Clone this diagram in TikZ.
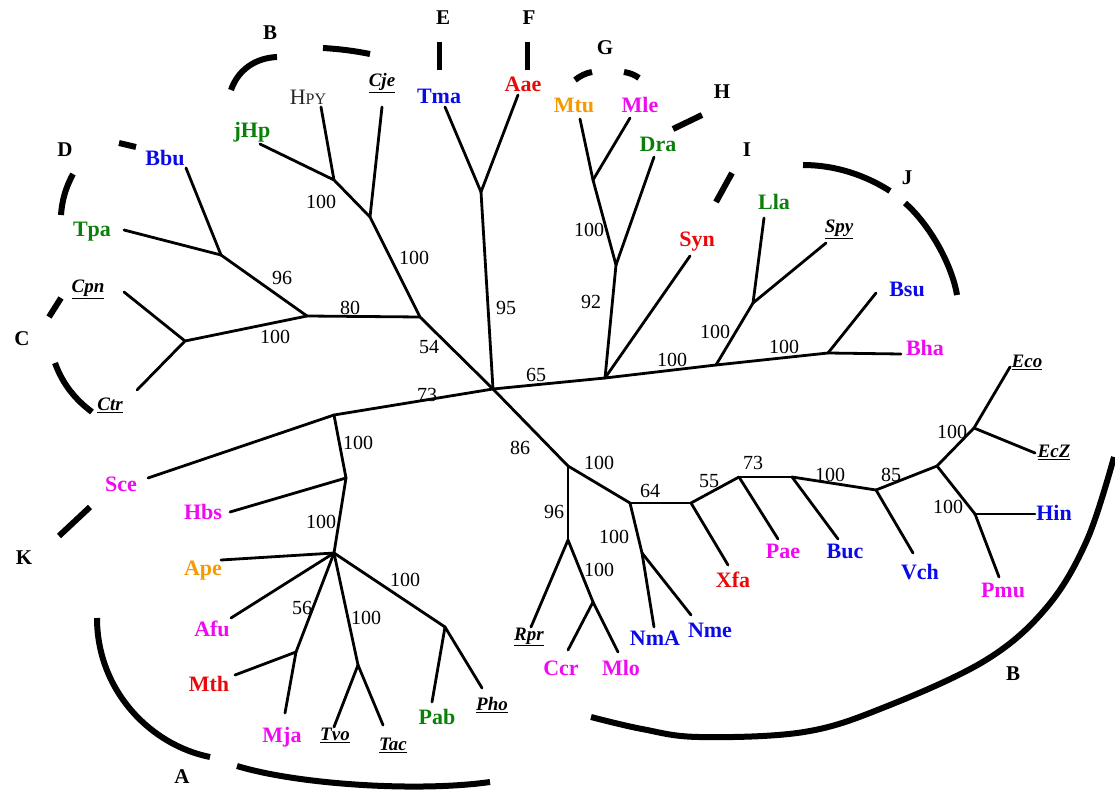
\documentclass[tikz,border=0pt]{standalone}
\usepackage{fontspec}
\setmainfont{Liberation Serif}
\definecolor{tblue}{HTML}{0A0AE6}
\definecolor{tred}{HTML}{E80A0A}
\definecolor{tgreen}{HTML}{0A800A}
\definecolor{tmag}{HTML}{F00AF0}
\definecolor{torange}{HTML}{F59A00}
\newcommand{\refsp}[1]{\underline{#1}}
\begin{document}
\begin{tikzpicture}[x=1pt,y=-1pt,
  branch/.style={line width=2.8pt, line cap=round, line join=round},
  clade/.style={line width=6pt},
  taxon/.style={font=\fontsize{22}{22}\selectfont\bfseries, inner sep=0pt},
  refsp/.style={font=\fontsize{19}{19}\selectfont\bfseries\itshape, inner sep=0pt},
  boot/.style={font=\fontsize{20}{20}\selectfont, inner sep=0pt},
  group/.style={font=\fontsize{21}{21}\selectfont\bfseries, inner sep=0pt}]
\useasboundingbox (0,0) rectangle (1115,791);

% ---------- junctions and tips ----------
\coordinate (r) at (493,389);
\coordinate (n54) at (420,317);
\coordinate (nCj) at (370,217);
\coordinate (nHp) at (334,180);
\coordinate (lCje) at (382,107);
\coordinate (lHPY) at (321,107);
\coordinate (ljHp) at (260,144);
\coordinate (n80) at (307,316);
\coordinate (nBT) at (221,255);
\coordinate (lBbu) at (186,168);
\coordinate (lTpa) at (124,230);
\coordinate (nCC) at (185,341);
\coordinate (lCpn) at (124,292);
\coordinate (lCtr) at (137,390);
\coordinate (nTA) at (481,192);
\coordinate (lTma) at (445,107);
\coordinate (lAae) at (518,95);
\coordinate (n65) at (605,378);
\coordinate (n92) at (616,265);
\coordinate (nMM) at (593,180);
\coordinate (lMtu) at (580,119);
\coordinate (lMle) at (630,118);
\coordinate (lDra) at (654,157);
\coordinate (lSyn) at (690,256);
\coordinate (nFi) at (716,365);
\coordinate (nLS) at (753,303);
\coordinate (lLla) at (764,218);
\coordinate (lSpy) at (826,243);
\coordinate (nBB) at (828,353);
\coordinate (lBsu) at (876,293);
\coordinate (lBha) at (901,354);
\coordinate (n86) at (568,466);
\coordinate (n96) at (568,540);
\coordinate (lRpr) at (531,627);
\coordinate (nCM) at (593,602);
\coordinate (lCcr) at (568,650);
\coordinate (lMlo) at (618,652);
\coordinate (n64) at (630,503);
\coordinate (nNN) at (642,553);
\coordinate (lNmA) at (654,627);
\coordinate (lNme) at (691,615);
\coordinate (n55) at (691,503);
\coordinate (lXfa) at (728,565);
\coordinate (n73a) at (739,477);
\coordinate (lPae) at (778,539);
\coordinate (n73b) at (792,477);
\coordinate (lBuc) at (838,539);
\coordinate (nVc) at (876,490);
\coordinate (lVch) at (913,553);
\coordinate (n85) at (937,466);
\coordinate (nEE) at (974,428);
\coordinate (lEco) at (1010,367);
\coordinate (lEcZ) at (1035,453);
\coordinate (nHP) at (975,514);
\coordinate (lHin) at (1035,514);
\coordinate (lPmu) at (999,577);
\coordinate (nArc) at (334,415);
\coordinate (lSce) at (148,478);
\coordinate (nHb) at (346,478);
\coordinate (lHbs) at (230,512);
\coordinate (nEury) at (334,553);
\coordinate (lApe) at (221,560);
\coordinate (lAfu) at (231,618);
\coordinate (nMM2) at (296,652);
\coordinate (lMth) at (235,675);
\coordinate (lMja) at (285,713);
\coordinate (nTT) at (358,665);
\coordinate (lTvo) at (334,727);
\coordinate (lTac) at (383,725);
\coordinate (nPP) at (445,627);
\coordinate (lPab) at (432,702);
\coordinate (lPho) at (482,688);

% ---------- branches ----------
\foreach \a/\b in {r/n54, n54/nCj, nCj/lCje, nCj/nHp, nHp/lHPY, nHp/ljHp,
  n54/n80, n80/nBT, nBT/lBbu, nBT/lTpa, n80/nCC, nCC/lCpn, nCC/lCtr,
  r/nTA, nTA/lTma, nTA/lAae,
  r/n65, n65/n92, n92/nMM, nMM/lMtu, nMM/lMle, n92/lDra, n65/lSyn,
  n65/nFi, nFi/nLS, nLS/lLla, nLS/lSpy, nFi/nBB, nBB/lBsu, nBB/lBha,
  r/n86, n86/n96, n96/lRpr, n96/nCM, nCM/lCcr, nCM/lMlo,
  n86/n64, n64/nNN, nNN/lNmA, nNN/lNme, n64/n55, n55/lXfa, n55/n73a,
  n73a/lPae, n73a/n73b, n73b/lBuc, n73b/nVc, nVc/lVch, nVc/n85,
  n85/nEE, nEE/lEco, nEE/lEcZ, n85/nHP, nHP/lHin, nHP/lPmu,
  r/nArc, nArc/lSce, nArc/nHb, nHb/lHbs, nHb/nEury, nEury/lApe, nEury/lAfu,
  nEury/nMM2, nMM2/lMth, nMM2/lMja, nEury/nTT, nTT/lTvo, nTT/lTac,
  nEury/nPP, nPP/lPab, nPP/lPho}
  \draw[branch] (\a) -- (\b);

% ---------- taxon names ----------
\node[taxon, tblue] (Tma) at (439,96) {Tma};
\node[taxon, tred] (Aae) at (523,84) {Aae};
\node[taxon, torange] (Mtu) at (574,105) {Mtu};
\node[taxon, tmag] (Mle) at (640,105) {Mle};
\node[taxon, tgreen] (Dra) at (658,144) {Dra};
\node[taxon, tred] (Syn) at (697,242) {Syn};
\node[taxon, tgreen] (Lla) at (774,202) {Lla};
\node[refsp] (Spy) at (839,229) {\refsp{Spy}};
\node[taxon, tblue] (Bsu) at (907,289) {Bsu};
\node[taxon, tmag] (Bha) at (925,348) {Bha};
\node[refsp] (Eco) at (1027,362) {\refsp{Eco}};
\node[refsp] (EcZ) at (1054,452) {\refsp{EcZ}};
\node[taxon, tblue] (Hin) at (1054,513) {Hin};
\node[taxon, tmag] (Pmu) at (1003,590) {Pmu};
\node[taxon, tblue] (Vch) at (920,572) {Vch};
\node[taxon, tblue] (Buc) at (845,551) {Buc};
\node[taxon, tmag] (Pae) at (783,551) {Pae};
\node[taxon, tred] (Xfa) at (733,580) {Xfa};
\node[taxon, tblue] (Nme) at (710,630) {Nme};
\node[taxon, tblue] (NmA) at (655,638) {NmA};
\node[taxon, tmag] (Mlo) at (621,668) {Mlo};
\node[taxon, tmag] (Ccr) at (561,668) {Ccr};
\node[refsp] (Rpr) at (529,637) {\refsp{Rpr}};
\node[refsp] (Pho) at (492,705) {\refsp{Pho}};
\node[taxon, tgreen] (Pab) at (437,717) {Pab};
\node[refsp] (Tac) at (393,745) {\refsp{Tac}};
\node[refsp] (Tvo) at (335,735) {\refsp{Tvo}};
\node[taxon, tmag] (Mja) at (282,737) {Mja};
\node[taxon, tred] (Mth) at (209,684) {Mth};
\node[taxon, tmag] (Afu) at (212,629) {Afu};
\node[taxon, torange] (Ape) at (203,571) {Ape};
\node[taxon, tmag] (Hbs) at (203,512) {Hbs};
\node[taxon, tmag] (Sce) at (121,484) {Sce};
\node[refsp] (Ctr) at (110,405) {\refsp{Ctr}};
\node[refsp] (Cpn) at (88,289) {\refsp{Cpn}};
\node[taxon, tgreen] (Tpa) at (92,232) {Tpa};
\node[taxon, tblue] (Bbu) at (165,158) {Bbu};
\node[taxon, tgreen] (jHp) at (252,132) {jHp};
\node[inner sep=0pt, text=black!85] (HPY) at (308,97)
  {{\fontsize{22}{22}\selectfont H}{\fontsize{16}{16}\selectfont PY}};
\node[refsp] (Cje) at (382,83) {\refsp{Cje}};

% ---------- bootstrap values ----------
\node[boot] (b01) at (321,202) {100};
\node[boot] (b02) at (414,258) {100};
\node[boot] (b03) at (282,278) {96};
\node[boot] (b04) at (350,308) {80};
\node[boot] (b05) at (275,337) {100};
\node[boot] (b06) at (429,347) {54};
\node[boot] (b07) at (506,308) {95};
\node[boot] (b08) at (536,375) {65};
\node[boot] (b09) at (427,395) {73};
\node[boot] (b10) at (358,443) {100};
\node[boot] (b11) at (321,522) {100};
\node[boot] (b12) at (302,608) {56};
\node[boot] (b13) at (366,618) {100};
\node[boot] (b14) at (405,580) {100};
\node[boot] (b15) at (520,448) {86};
\node[boot] (b16) at (599,463) {100};
\node[boot] (b17) at (554,512) {96};
\node[boot] (b18) at (614,537) {100};
\node[boot] (b19) at (599,570) {100};
\node[boot] (b20) at (650,491) {64};
\node[boot] (b21) at (709,481) {55};
\node[boot] (b22) at (753,463) {73};
\node[boot] (b23) at (830,475) {100};
\node[boot] (b24) at (891,475) {85};
\node[boot] (b25) at (952,432) {100};
\node[boot] (b26) at (948,507) {100};
\node[boot] (b27) at (589,230) {100};
\node[boot] (b28) at (591,302) {92};
\node[boot] (b29) at (715,332) {100};
\node[boot] (b30) at (672,360) {100};
\node[boot] (b31) at (784,347) {100};

% ---------- group brackets ----------
\draw[clade] (97,618) .. controls (97,690) and (150,745) .. (210,757);
\draw[clade] (237,766) .. controls (300,785) and (420,792) .. (490,782);
\draw[clade] plot[smooth, tension=0.6] coordinates {(591,717) (642,729) (699,737)
  (804,732) (885,707) (986,660) (1047,607) (1087,540) (1114,457)};
\draw[clade] (231,90) .. controls (238,70) and (255,58) .. (277,57);
\draw[clade] (323,48) .. controls (340,49) and (355,51) .. (370,54);
\draw[clade] (119,143) -- (136,147);
\draw[clade] (73,174) .. controls (66,187) and (62,200) .. (61,215);
\draw[clade] (61,298) -- (49,317);
\draw[clade] (55,363) .. controls (63,385) and (76,400) .. (92,412);
\draw[clade] (90,507) -- (59,536);
\draw[clade, line width=5pt] (439,42) -- (439,70);
\draw[clade, line width=5pt] (527,42) -- (527,70);
\draw[clade] (575,80) .. controls (580,76) and (586,73) .. (592,72);
\draw[clade] (624,72) .. controls (630,73) and (635,75) .. (639,78);
\draw[clade] (673,129) -- (702,115);
\draw[clade] (716,202) -- (732,173);
\draw[clade] (803,165) .. controls (835,165) and (865,175) .. (890,191);
\draw[clade] (905,203) .. controls (930,225) and (952,265) .. (957,295);

% ---------- group letters ----------
\node[group] (gA) at (182,777) {A};
\node[group] (gB) at (270,33) {B};
\node[group] (gB2) at (1013,674) {B};
\node[group] (gC) at (22,339) {C};
\node[group] (gD) at (65,150) {D};
\node[group] (gE) at (443,18) {E};
\node[group] (gF) at (529,18) {F};
\node[group] (gG) at (605,48) {G};
\node[group] (gH) at (722,92) {H};
\node[group] (gI) at (747,150) {I};
\node[group] (gJ) at (907,178) {J};
\node[group] (gK) at (24,558) {K};
\end{tikzpicture}
\end{document}
